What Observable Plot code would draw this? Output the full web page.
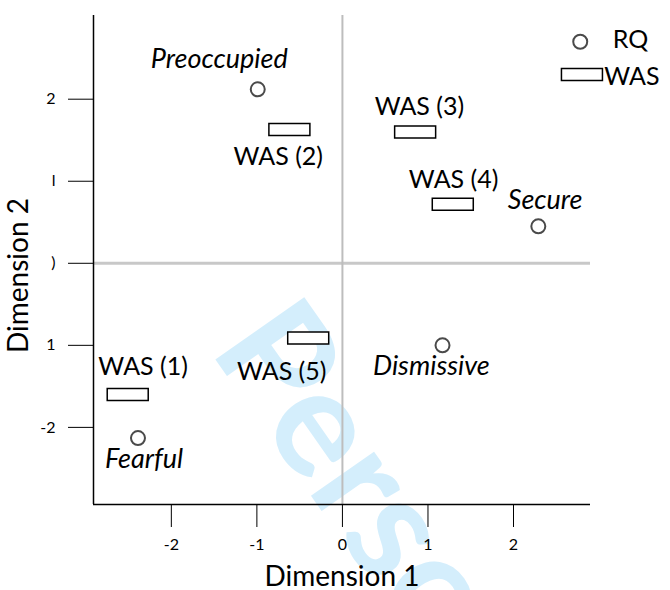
<!DOCTYPE html>
<html>
<head>
<meta charset="utf-8">
<script src="https://cdn.jsdelivr.net/npm/d3@7"></script>
<script src="https://cdn.jsdelivr.net/npm/@observablehq/plot@0.6"></script>
<style>
  html, body { margin: 0; padding: 0; background: #fff; }
  #chart { width: 670px; height: 590px; overflow: hidden; }
</style>
</head>
<body>
<div id="chart"></div>
<script>
// RQ attachment prototypes (circles)
const rqNames = ["Preoccupied", "Secure", "Dismissive", "Fearful"];
const rqDim1 = [-0.99, 2.29, 1.17, -2.39];
const rqDim2 = [2.12, 0.45, -1.00, -2.13];
// label anchor (data units) for RQ names
const rqLabelDim1 = [-1.44, 2.37, 1.04, -2.32];
const rqLabelDim2 = [2.49, 0.77, -1.26, -2.39];

// WAS items (rectangles)
const wasNames = ["WAS (1)", "WAS (2)", "WAS (3)", "WAS (4)", "WAS (5)"];
const wasDim1 = [-2.51, -0.62, 0.85, 1.29, -0.40];
const wasDim2 = [-1.60, 1.63, 1.60, 0.72, -0.91];
const wasLabelDim1 = [-2.33, -0.75, 0.90, 1.30, -0.71];
const wasLabelDim2 = [-1.27, 1.29, 1.90, 1.01, -1.32];

// legend
const legendNames = ["RQ", "WAS"];
const legendDim1 = [2.78, 2.80];
const legendDim2 = [2.70, 2.30];
const legendTextDim1 = [3.16, 3.06];
const legendTextDim2 = [2.72, 2.27];

// axes
const xTicks = [-2, -1, 0, 1, 2];
const xTickLabels = ["-2", "-1", "0", "1", "2"];
const yTicks = [2, 1, 0, -1, -2];
const yTickLabels = ["2", "l", ")", "1", "-2"];
const xDomain = [-2.91, 2.90];
const yDomain = [-2.94, 3.02];

const watermarkText = "Personal";

const rq = rqNames.map((n, i) => ({name: n, x: rqDim1[i], y: rqDim2[i], lx: rqLabelDim1[i], ly: rqLabelDim2[i]}));
const was = wasNames.map((n, i) => ({name: n, x: wasDim1[i], y: wasDim2[i], lx: wasLabelDim1[i], ly: wasLabelDim2[i]}));
const legend = legendNames.map((n, i) => ({name: n, x: legendDim1[i], y: legendDim2[i], lx: legendTextDim1[i], ly: legendTextDim2[i]}));
const xTickData = xTicks.map((v, i) => ({v, label: xTickLabels[i]}));
const yTickData = yTicks.map((v, i) => ({v, label: yTickLabels[i]}));

const rectSymbol = {
  draw(context) {
    context.rect(-20.5, -6, 41, 12);
  }
};

const FONT = "Lato, 'Open Sans', sans-serif";

const chart = Plot.plot({
  width: 670,
  height: 590,
  marginLeft: 93,
  marginRight: 80,
  marginTop: 15,
  marginBottom: 86,
  style: {fontFamily: FONT, fontSize: "16px", background: "white", color: "black", overflow: "hidden"},
  x: {domain: xDomain, ticks: xTicks, tickSize: 23, tickPadding: 10, tickFormat: () => "", label: null},
  y: {domain: yDomain, ticks: yTicks, tickSize: 25, tickPadding: 12, tickFormat: () => "", label: null},
  marks: [
    // watermark
    Plot.text([watermarkText], {frameAnchor: "top-left", dx: 208 - 93, dy: 349 - 15, rotate: 55, fontSize: 150, fontWeight: "bold", fill: "#d4eefc", textAnchor: "start", lineAnchor: "bottom", fontFamily: FONT}),
    // zero lines
    Plot.ruleY([0], {stroke: "#c8c8c8", strokeWidth: 3}),
    Plot.ruleX([0], {stroke: "#bdbdbd", strokeWidth: 2}),
    // axis lines
    Plot.ruleX([xDomain[0]], {stroke: "black", strokeWidth: 1.5}),
    Plot.ruleY([yDomain[0]], {stroke: "black", strokeWidth: 1.5}),
    // tick labels
    Plot.text(xTickData, {x: "v", text: "label", frameAnchor: "bottom", dy: 34, lineAnchor: "top", textAnchor: "middle", fontSize: 16, fill: "black"}),
    Plot.text(yTickData, {y: "v", text: "label", frameAnchor: "left", dx: -38, lineAnchor: "middle", textAnchor: "end", fontSize: 16, fill: "black"}),
    // RQ circles
    Plot.dot(rq, {x: "x", y: "y", r: 7, stroke: "#4a4a4a", strokeWidth: 2, fill: "none"}),
    // WAS rectangles
    Plot.dot(was, {x: "x", y: "y", symbol: () => rectSymbol, stroke: "black", strokeWidth: 1.5, fill: "white"}),
    // legend
    Plot.dot(legend.slice(0, 1), {x: "x", y: "y", r: 7, stroke: "#4a4a4a", strokeWidth: 2, fill: "none"}),
    Plot.dot(legend.slice(1), {x: "x", y: "y", symbol: () => rectSymbol, stroke: "black", strokeWidth: 1.5, fill: "white"}),
    Plot.text(legend, {x: "lx", y: "ly", text: "name", textAnchor: "start", fontSize: 25, fill: "black"}),
    // labels
    Plot.text(rq, {x: "lx", y: "ly", text: "name", fontSize: 27, fontStyle: "italic", fill: "black"}),
    Plot.text(was, {x: "lx", y: "ly", text: "name", fontSize: 25, fill: "black"}),
    // axis titles
    Plot.text(["Dimension 1"], {frameAnchor: "bottom", dy: 81, textAnchor: "middle", lineAnchor: "bottom", fontSize: 28, fill: "black"}),
    Plot.text(["Dimension 2"], {frameAnchor: "left", dx: -74, dy: 15.5, textAnchor: "middle", lineAnchor: "middle", rotate: -90, fontSize: 28, fill: "black"})
  ]
});

// put the watermark behind the axes and every other mark
const wm = Array.from(chart.querySelectorAll("text")).find(t => t.textContent === watermarkText);
if (wm) {
  let g = wm;
  while (g.parentNode && g.parentNode !== chart) g = g.parentNode;
  const styleEl = chart.querySelector("style");
  chart.insertBefore(g, styleEl ? styleEl.nextSibling : chart.firstChild);
}
document.getElementById("chart").appendChild(chart);
</script>
</body>
</html>
